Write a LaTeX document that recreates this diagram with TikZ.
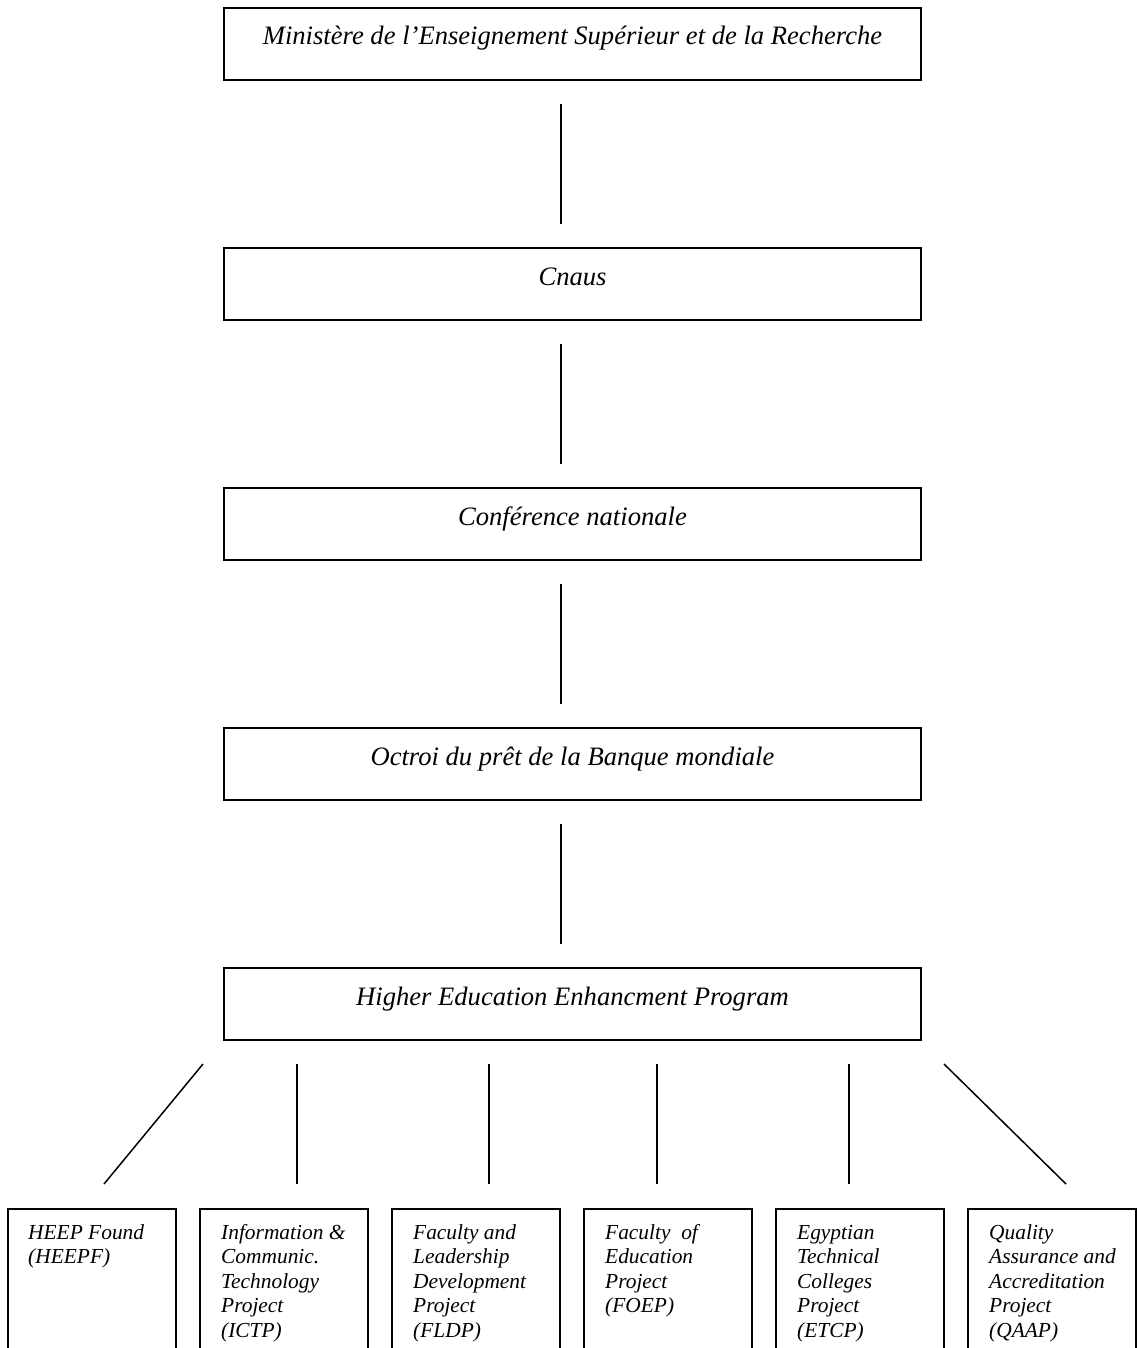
\documentclass[tikz,border=0pt]{standalone}
\usepackage{fontspec}
\setmainfont{Liberation Serif}
\usetikzlibrary{calc}
\begin{document}
\begin{tikzpicture}[x=1pt,y=-1pt,
  topbox/.style={draw, line width=1.8pt, minimum width=697pt, minimum height=72pt, inner sep=0pt, outer sep=0pt},
  toptext/.style={anchor=base, inner sep=0pt, font=\fontsize{26.6}{30}\selectfont\itshape},
  subbox/.style={draw, line width=1.8pt, minimum width=168pt, minimum height=220pt, anchor=north, inner sep=0pt, outer sep=0pt},
  subtext/.style={anchor=base west, inner sep=0pt, font=\fontsize{21.4}{24.6}\selectfont\itshape},
  conn/.style={line width=1.5pt}]
\useasboundingbox (0,0) rectangle (1137,1348);
\clip (0,0) rectangle (1137,1348);
\fill[white] (0,0) rectangle (1137,1348);

% main chain
\node[topbox] (m) at (572.5,44) {};
\node[toptext] (mt) at ($(m.north)+(0,37)$) {Ministère de l’Enseignement Supérieur et de la Recherche};
\node[topbox] (c) at (572.5,284) {};
\node[toptext] (ct) at ($(c.north)+(0,37)$) {Cnaus};
\node[topbox] (n) at (572.5,524) {};
\node[toptext] (nt) at ($(n.north)+(0,37)$) {Conférence nationale};
\node[topbox] (o) at (572.5,764) {};
\node[toptext] (ot) at ($(o.north)+(0,37)$) {Octroi du prêt de la Banque mondiale};
\node[topbox] (h) at (572.5,1004) {};
\node[toptext] (ht) at ($(h.north)+(0,37)$) {Higher Education Enhancment Program};

\coordinate (lx) at (561,0);
\draw[conn, shorten <=24pt, shorten >=24pt] (m.south -| lx) -- (c.north -| lx);
\draw[conn, shorten <=24pt, shorten >=24pt] (c.south -| lx) -- (n.north -| lx);
\draw[conn, shorten <=24pt, shorten >=24pt] (n.south -| lx) -- (o.north -| lx);
\draw[conn, shorten <=24pt, shorten >=24pt] (o.south -| lx) -- (h.north -| lx);

% sub projects
\node[subbox] (s1) at (92,1209) {};
\node[subbox] (s2) at (284,1209) {};
\node[subbox] (s3) at (476,1209) {};
\node[subbox] (s4) at (668,1209) {};
\node[subbox] (s5) at (860,1209) {};
\node[subbox] (s6) at (1052,1209) {};

\node[subtext] (s1t) at ($(s1.north west)+(20,30)$) {\parbox[t]{150pt}{\raggedright HEEP Found\\(HEEPF)}};
\node[subtext] (s2t) at ($(s2.north west)+(21,30)$) {\parbox[t]{150pt}{\raggedright Information \&\\Communic.\\Technology\\Project\\(ICTP)}};
\node[subtext] (s3t) at ($(s3.north west)+(21,30)$) {\parbox[t]{150pt}{\raggedright Faculty and\\Leadership\\Development\\Project\\(FLDP)}};
\node[subtext] (s4t) at ($(s4.north west)+(21,30)$) {\parbox[t]{150pt}{\raggedright Faculty\ \ of\\Education\\Project\\(FOEP)}};
\node[subtext] (s5t) at ($(s5.north west)+(21,30)$) {\parbox[t]{150pt}{\raggedright Egyptian\\Technical\\Colleges\\Project\\(ETCP)}};
\node[subtext] (s6t) at ($(s6.north west)+(21,30)$) {\parbox[t]{150pt}{\raggedright Quality\\Assurance and\\Accreditation\\Project\\(QAAP)}};

% connector end points
\coordinate (t1) at (203,1064); \coordinate (b1) at (104,1184);
\coordinate (t2) at (297,1064); \coordinate (b2) at (297,1184);
\coordinate (t3) at (489,1064); \coordinate (b3) at (489,1184);
\coordinate (t4) at (657,1064); \coordinate (b4) at (657,1184);
\coordinate (t5) at (849,1064); \coordinate (b5) at (849,1184);
\coordinate (t6) at (944,1064); \coordinate (b6) at (1066,1184);
\foreach \i in {1,...,6} {\draw[conn] (t\i) -- (b\i);}
\end{tikzpicture}
\end{document}
